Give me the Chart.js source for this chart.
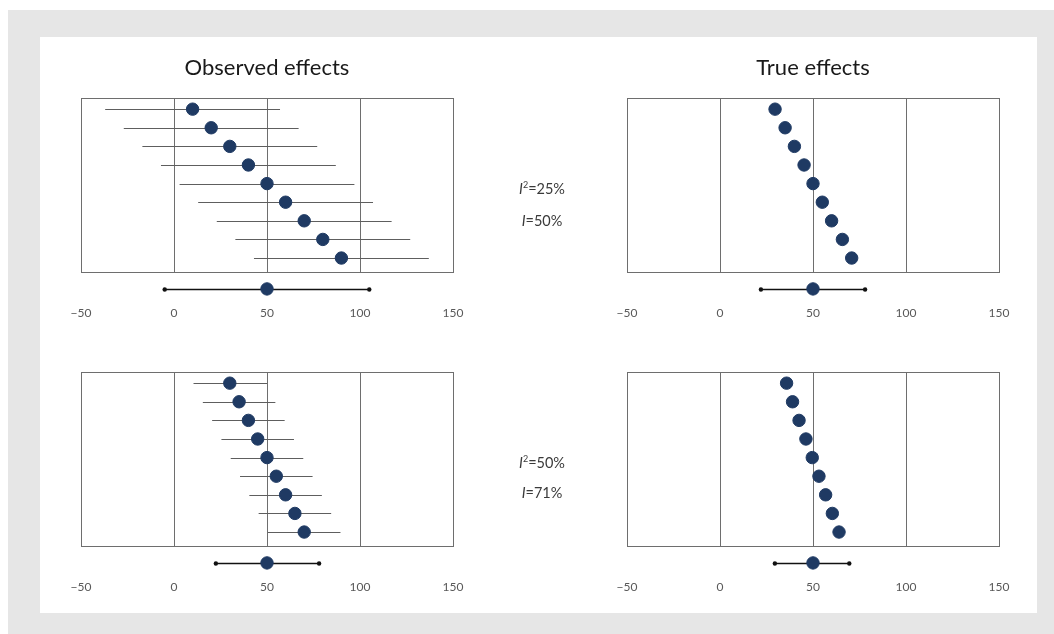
<!DOCTYPE html>
<html>
<head>
<meta charset="utf-8">
<script src="https://cdn.jsdelivr.net/npm/chart.js@4/dist/chart.umd.min.js"></script>
<style>
  html, body { margin: 0; padding: 0; background: #ffffff; }
  body { width: 1054px; height: 634px; position: relative; overflow: hidden; font-family: Lato, "Open Sans", sans-serif; }
  #outer { position: absolute; left: 8px; top: 10px; width: 1046px; height: 624px; background: #e6e6e6; }
  #inner { position: absolute; left: 40px; top: 37px; width: 997px; height: 576px; background: #ffffff; }
  canvas { position: absolute; }
  .stat { position: absolute; width: 120px; text-align: center; font-size: 14.5px; color: #3a3a3a; line-height: 16px; }
  .stat i { font-style: italic; }
  .stat sup { font-size: 9px; vertical-align: 6px; line-height: 0; }
</style>
</head>
<body>
<div id="outer"></div>
<div id="inner"></div>
<canvas id="c1" width="420" height="300" style="left:60px;top:40px;width:420px;height:300px"></canvas>
<canvas id="c2" width="420" height="300" style="left:600px;top:40px;width:420px;height:300px"></canvas>
<canvas id="c3" width="420" height="252" style="left:60px;top:362px;width:420px;height:252px"></canvas>
<canvas id="c4" width="420" height="252" style="left:600px;top:362px;width:420px;height:252px"></canvas>
<div class="stat" style="left:482px;top:181px"><i>I</i><sup>2</sup>=25%</div>
<div class="stat" style="left:482px;top:213px"><i>I</i>=50%</div>
<div class="stat" style="left:482px;top:455px"><i>I</i><sup>2</sup>=50%</div>
<div class="stat" style="left:482px;top:485px"><i>I</i>=71%</div>
<script>
// ---- data ----
const rows = [1, 2, 3, 4, 5, 6, 7, 8, 9];
const summaryRow = 10.66;
const xTicks = [-50, 0, 50, 100, 150];

// Top row (I^2 = 25%)
const obsTop = [10, 20, 30, 40, 50, 60, 70, 80, 90];
const obsTopLow = [-37, -27, -17, -7, 3, 13, 23, 33, 43];
const obsTopHigh = [57, 67, 77, 87, 97, 107, 117, 127, 137];
const obsTopSummary = [50];
const obsTopSummaryCI = [-5, 105];
const trueTop = [29.6, 35, 40, 45.2, 50, 55, 60, 65.8, 70.8];
const trueTopSummary = [50];
const trueTopSummaryCI = [22, 78];

// Bottom row (I^2 = 50%)
const obsBot = [30, 35, 40, 45, 50, 55, 60, 65, 70];
const obsBotLow = [10.5, 15.5, 20.5, 25.5, 30.5, 35.5, 40.5, 45.5, 50.5];
const obsBotHigh = [50, 54.5, 59.5, 64.5, 69.5, 74.5, 79.5, 84.5, 89.5];
const obsBotSummary = [50];
const obsBotSummaryCI = [22.5, 78];
const trueBot = [35.8, 39, 42.5, 46.2, 49.6, 53.2, 56.8, 60.4, 64];
const trueBotSummary = [50];
const trueBotSummaryCI = [29.5, 69.5];

const titles = ['Observed effects', 'True effects', '', ''];

// ---- plugins ----
const frame = {
  id: 'frame',
  beforeDatasetsDraw(chart) {
    const a = chart.chartArea, ctx = chart.ctx;
    ctx.save();
    ctx.strokeStyle = '#6e6e6e';
    ctx.lineWidth = 1;
    ctx.strokeRect(Math.round(a.left) + 0.5, Math.round(a.top) + 0.5, Math.round(a.right - a.left), Math.round(a.bottom - a.top));
    ctx.restore();
  }
};
const errorBars = {
  id: 'errorBars',
  beforeDatasetsDraw(chart, args, opts) {
    const xs = chart.scales.x, ys = chart.scales.y, ctx = chart.ctx;
    ctx.save();
    (opts.bars || []).forEach(b => {
      const y = Math.round(ys.getPixelForValue(b.y)) + 0.5;
      ctx.beginPath();
      ctx.strokeStyle = b.color;
      ctx.lineWidth = b.width;
      ctx.moveTo(xs.getPixelForValue(b.lo), y);
      ctx.lineTo(xs.getPixelForValue(b.hi), y);
      ctx.stroke();
      if (b.caps) {
        ctx.fillStyle = b.color;
        [b.lo, b.hi].forEach(v => {
          ctx.beginPath();
          ctx.arc(xs.getPixelForValue(v), y, 2.2, 0, Math.PI * 2);
          ctx.fill();
        });
      }
    });
    ctx.restore();
  }
};
// draws the summary dataset's own point elements, which sit below the plot box
const outsidePoints = {
  id: 'outsidePoints',
  afterDatasetsDraw(chart) {
    const big = { left: -1e4, top: -1e4, right: 1e4, bottom: 1e4 };
    chart.getDatasetMeta(1).data.forEach(el => el.draw(chart.ctx, big));
  }
};

function makeChart(id, title, pts, low, high, summary, summaryCI, padL, padR, padT) {
  const bars = [];
  if (low) rows.forEach((r, i) => bars.push({ y: r, lo: low[i], hi: high[i], color: '#5e5e5e', width: 1, caps: false }));
  bars.push({ y: summaryRow, lo: summaryCI[0], hi: summaryCI[1], color: '#111111', width: 1.6, caps: true });
  return new Chart(document.getElementById(id), {
    type: 'scatter',
    data: {
      datasets: [
        { data: pts.map((v, i) => ({ x: v, y: rows[i] })), backgroundColor: '#1f3a63', borderColor: '#1f3a63', pointRadius: 6.2, pointHoverRadius: 6.2 },
        { data: summary.map(v => ({ x: v, y: summaryRow })), backgroundColor: '#1f3a63', borderColor: '#1f3a63', pointRadius: 6.2, pointHoverRadius: 6.2, clip: false }
      ]
    },
    options: {
      responsive: false,
      animation: false,
      events: [],
      layout: { padding: { left: padL, right: padR, top: padT, bottom: 0 } },
      plugins: {
        legend: { display: false },
        tooltip: { enabled: false },
        title: { display: !!title, text: title, color: '#1a1a1a', font: { family: 'Lato', size: 22, weight: 'normal' }, padding: { top: 15, bottom: 16.6 } },
        errorBars: { bars }
      },
      scales: {
        x: {
          type: 'linear', min: -50, max: 150,
          afterBuildTicks: s => { s.ticks = xTicks.map(v => ({ value: v })); },
          afterFit: s => { s.height = 68; s.paddingLeft = 0; s.paddingRight = 0; },
          grid: { display: true, color: '#6e6e6e', lineWidth: 1, drawTicks: false },
          border: { display: false },
          ticks: { color: '#595959', font: { family: 'Lato', size: 12 }, padding: 34, maxRotation: 0,
                   callback: v => (v < 0 ? '\u2212' + Math.abs(v) : String(v)) }
        },
        y: { type: 'linear', min: 0.4, max: 9.75, reverse: true, display: false }
      }
    },
    plugins: [frame, errorBars, outsidePoints]
  });
}

makeChart('c1', titles[0], obsTop, obsTopLow, obsTopHigh, obsTopSummary, obsTopSummaryCI, 21, 27, 0);
makeChart('c2', titles[1], trueTop, null, null, trueTopSummary, trueTopSummaryCI, 27, 21, 0);
makeChart('c3', titles[2], obsBot, obsBotLow, obsBotHigh, obsBotSummary, obsBotSummaryCI, 21, 27, 10);
makeChart('c4', titles[3], trueBot, null, null, trueBotSummary, trueBotSummaryCI, 27, 21, 10);
</script>
</body>
</html>
